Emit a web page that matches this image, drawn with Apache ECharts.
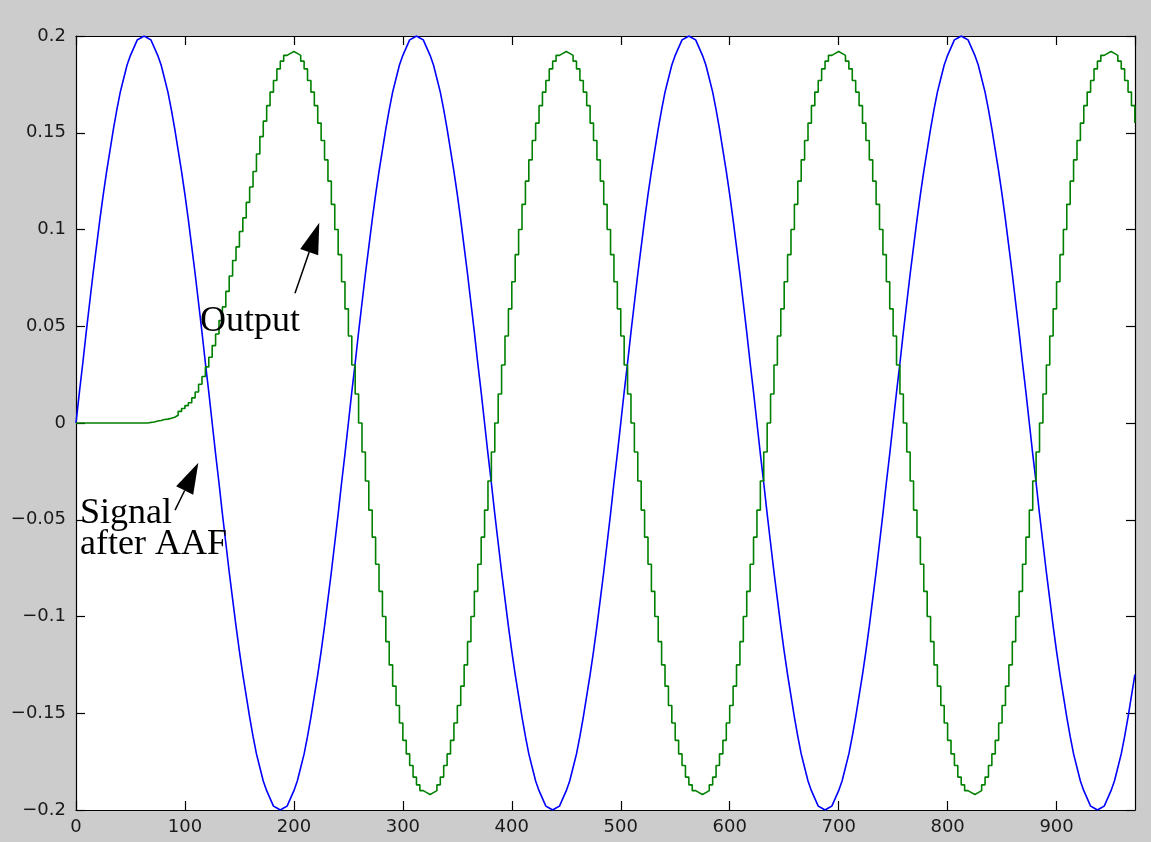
<!DOCTYPE html>
<html>
<head>
<meta charset="utf-8">
<title>Signal after AAF / Output</title>
<script src="https://cdn.jsdelivr.net/npm/echarts@6/dist/echarts.min.js"></script>
<style>
  html, body { margin: 0; padding: 0; background: #cccccc; }
  #chart { width: 1151px; height: 842px; }
</style>
</head>
<body>
<div id="chart"></div>
<script>
// sample period of both traces (x units)
const SAMPLE_PERIOD = 3.125;

// signal after the anti-aliasing filter (blue), one value per sample
const signalAfterAAF = [
    0, 0.016, 0.031, 0.047, 0.062, 0.077, 0.091, 0.105, 0.118, 0.130, 0.141, 0.152, 0.162, 0.171, 0.178, 0.185, 0.190, 0.194, 0.198, 0.199,
    0.2, 0.199, 0.198, 0.194, 0.190, 0.185, 0.178, 0.171, 0.162, 0.152, 0.141, 0.130, 0.118, 0.105, 0.091, 0.077, 0.062, 0.047, 0.031, 0.016,
    0, -0.016, -0.031, -0.047, -0.062, -0.077, -0.091, -0.105, -0.118, -0.130, -0.141, -0.152, -0.162, -0.171, -0.178, -0.185, -0.190, -0.194, -0.198, -0.199,
    -0.2, -0.199, -0.198, -0.194, -0.190, -0.185, -0.178, -0.171, -0.162, -0.152, -0.141, -0.130, -0.118, -0.105, -0.091, -0.077, -0.062, -0.047, -0.031, -0.016,
    0, 0.016, 0.031, 0.047, 0.062, 0.077, 0.091, 0.105, 0.118, 0.130, 0.141, 0.152, 0.162, 0.171, 0.178, 0.185, 0.190, 0.194, 0.198, 0.199,
    0.2, 0.199, 0.198, 0.194, 0.190, 0.185, 0.178, 0.171, 0.162, 0.152, 0.141, 0.130, 0.118, 0.105, 0.091, 0.077, 0.062, 0.047, 0.031, 0.016,
    0, -0.016, -0.031, -0.047, -0.062, -0.077, -0.091, -0.105, -0.118, -0.130, -0.141, -0.152, -0.162, -0.171, -0.178, -0.185, -0.190, -0.194, -0.198, -0.199,
    -0.2, -0.199, -0.198, -0.194, -0.190, -0.185, -0.178, -0.171, -0.162, -0.152, -0.141, -0.130, -0.118, -0.105, -0.091, -0.077, -0.062, -0.047, -0.031, -0.016,
    0, 0.016, 0.031, 0.047, 0.062, 0.077, 0.091, 0.105, 0.118, 0.130, 0.141, 0.152, 0.162, 0.171, 0.178, 0.185, 0.190, 0.194, 0.198, 0.199,
    0.2, 0.199, 0.198, 0.194, 0.190, 0.185, 0.178, 0.171, 0.162, 0.152, 0.141, 0.130, 0.118, 0.105, 0.091, 0.077, 0.062, 0.047, 0.031, 0.016,
    0, -0.016, -0.031, -0.047, -0.062, -0.077, -0.091, -0.105, -0.118, -0.130, -0.141, -0.152, -0.162, -0.171, -0.178, -0.185, -0.190, -0.194, -0.198, -0.199,
    -0.2, -0.199, -0.198, -0.194, -0.190, -0.185, -0.178, -0.171, -0.162, -0.152, -0.141, -0.130, -0.118, -0.105, -0.091, -0.077, -0.062, -0.047, -0.031, -0.016,
    0, 0.016, 0.031, 0.047, 0.062, 0.077, 0.091, 0.105, 0.118, 0.130, 0.141, 0.152, 0.162, 0.171, 0.178, 0.185, 0.190, 0.194, 0.198, 0.199,
    0.2, 0.199, 0.198, 0.194, 0.190, 0.185, 0.178, 0.171, 0.162, 0.152, 0.141, 0.130, 0.118, 0.105, 0.091, 0.077, 0.062, 0.047, 0.031, 0.016,
    0, -0.016, -0.031, -0.047, -0.062, -0.077, -0.091, -0.105, -0.118, -0.130, -0.141, -0.152, -0.162, -0.171, -0.178, -0.185, -0.190, -0.194, -0.198, -0.199,
    -0.2, -0.199, -0.198, -0.194, -0.190, -0.185, -0.178, -0.171, -0.162, -0.152, -0.141, -0.130
];

// held output (green), one value per sample
const heldOutput = [
    0, 0, 0, 0, 0, 0, 0, 0, 0, 0, 0, 0, 0, 0, 0, 0, 0, 0, 0, 0, 0,
    0.0003, 0.0005, 0.001, 0.0013, 0.0018, 0.002, 0.0025, 0.003, 0.004, 0.006, 0.0075, 0.009, 0.0105, 0.013,
    0.016, 0.020, 0.024, 0.029, 0.034, 0.040, 0.046, 0.053, 0.060, 0.068, 0.076, 0.084, 0.091, 0.099, 0.106,
    0.114, 0.122, 0.130, 0.139, 0.148, 0.156,
    0.164, 0.171, 0.177, 0.183, 0.187, 0.190, 0.191,
    0.192, 0.191, 0.190, 0.187, 0.183, 0.177, 0.171, 0.164, 0.155, 0.146, 0.136, 0.125, 0.113, 0.100, 0.087, 0.073, 0.059, 0.045, 0.030, 0.015,
    0, -0.015, -0.030, -0.045, -0.059, -0.073, -0.087, -0.100, -0.113, -0.125, -0.136, -0.146, -0.155, -0.164, -0.171, -0.177, -0.183, -0.187, -0.190, -0.191,
    -0.192, -0.191, -0.190, -0.187, -0.183, -0.177, -0.171, -0.164, -0.155, -0.146, -0.136, -0.125, -0.113, -0.100, -0.087, -0.073, -0.059, -0.045, -0.030, -0.015,
    0, 0.015, 0.030, 0.045, 0.059, 0.073, 0.087, 0.100, 0.113, 0.125, 0.136, 0.146, 0.155, 0.164, 0.171, 0.177, 0.183, 0.187, 0.190, 0.191,
    0.192, 0.191, 0.190, 0.187, 0.183, 0.177, 0.171, 0.164, 0.155, 0.146, 0.136, 0.125, 0.113, 0.100, 0.087, 0.073, 0.059, 0.045, 0.030, 0.015,
    0, -0.015, -0.030, -0.045, -0.059, -0.073, -0.087, -0.100, -0.113, -0.125, -0.136, -0.146, -0.155, -0.164, -0.171, -0.177, -0.183, -0.187, -0.190, -0.191,
    -0.192, -0.191, -0.190, -0.187, -0.183, -0.177, -0.171, -0.164, -0.155, -0.146, -0.136, -0.125, -0.113, -0.100, -0.087, -0.073, -0.059, -0.045, -0.030, -0.015,
    0, 0.015, 0.030, 0.045, 0.059, 0.073, 0.087, 0.100, 0.113, 0.125, 0.136, 0.146, 0.155, 0.164, 0.171, 0.177, 0.183, 0.187, 0.190, 0.191,
    0.192, 0.191, 0.190, 0.187, 0.183, 0.177, 0.171, 0.164, 0.155, 0.146, 0.136, 0.125, 0.113, 0.100, 0.087, 0.073, 0.059, 0.045, 0.030, 0.015,
    0, -0.015, -0.030, -0.045, -0.059, -0.073, -0.087, -0.100, -0.113, -0.125, -0.136, -0.146, -0.155, -0.164, -0.171, -0.177, -0.183, -0.187, -0.190, -0.191,
    -0.192, -0.191, -0.190, -0.187, -0.183, -0.177, -0.171, -0.164, -0.155, -0.146, -0.136, -0.125, -0.113, -0.100, -0.087, -0.073, -0.059, -0.045, -0.030, -0.015,
    0, 0.015, 0.030, 0.045, 0.059, 0.073, 0.087, 0.100, 0.113, 0.125, 0.136, 0.146, 0.155, 0.164, 0.171, 0.177, 0.183, 0.187, 0.190, 0.191,
    0.192, 0.191, 0.190, 0.187, 0.183, 0.177, 0.171, 0.164, 0.155
];

// axis ranges / ticks
const xRange = [0, 972];
const xTickStep = 100;
const yRange = [-0.2, 0.2];
const yTickStep = 0.05;

// annotations, in data coordinates
const annotations = [
    { lines: ['Output'], at: [113.8, 0.046] },
    { lines: ['Signal', 'after AAF'], at: [3.7, -0.0532] }
];
const arrows = [
    { from: [201, 0.067], to: [223.3, 0.1035] },
    { from: [90.9, -0.045], to: [112.3, -0.0205] }
];

const chart = echarts.init(document.getElementById('chart'));

const tickFont = { color: '#1a1a1a', fontSize: 18, fontFamily: '"DejaVu Sans", sans-serif' };

function toPairs(values) {
    return values.map((v, i) => [i * SAMPLE_PERIOD, v]);
}

function xAxisConf(position, showLabel) {
    return {
        type: 'value',
        position: position,
        min: xRange[0],
        max: xRange[1],
        interval: xTickStep,
        axisLine: { show: true, onZero: false, lineStyle: { color: '#000', width: 1.2 } },
        axisTick: { show: true, inside: true, length: 9, lineStyle: { color: '#000', width: 1.2 } },
        axisLabel: {
            show: showLabel,
            margin: 8,
            showMaxLabel: false,
            formatter: v => (v % xTickStep === 0 ? String(v) : ''),
            ...tickFont
        },
        splitLine: { show: false }
    };
}

function yAxisConf(position, showLabel) {
    return {
        type: 'value',
        position: position,
        min: yRange[0],
        max: yRange[1],
        interval: yTickStep,
        axisLine: { show: true, onZero: false, lineStyle: { color: '#000', width: 1.2 } },
        axisTick: { show: true, inside: true, length: 9, lineStyle: { color: '#000', width: 1.2 } },
        axisLabel: {
            show: showLabel,
            margin: 10,
            formatter: v => {
                const s = String(Math.round(v * 1000) / 1000);
                return s.replace('-', '\u2212');
            },
            ...tickFont
        },
        splitLine: { show: false }
    };
}

const option = {
    backgroundColor: '#cccccc',
    animation: false,
    grid: {
        left: 76, right: 16, top: 36, bottom: 32,
        show: true, backgroundColor: '#ffffff', borderWidth: 0
    },
    xAxis: [xAxisConf('bottom', true), xAxisConf('top', false)],
    yAxis: [yAxisConf('left', true), yAxisConf('right', false)],
    series: [
        {
            name: 'Signal after AAF',
            type: 'line',
            data: toPairs(signalAfterAAF),
            showSymbol: false,
            lineStyle: { color: '#0000ff', width: 1.6 },
            z: 2
        },
        {
            name: 'Output',
            type: 'line',
            step: 'end',
            data: toPairs(heldOutput),
            showSymbol: false,
            lineStyle: { color: '#008000', width: 1.6 },
            z: 3
        }
    ]
};

chart.setOption(option);

// 注释文字和箭头
function drawAnnotations() {
    const graphics = [];
    const lineGap = 31;
    annotations.forEach(a => {
        const p = chart.convertToPixel({ gridIndex: 0 }, a.at);
        a.lines.forEach((t, k) => {
            graphics.push({
                type: 'text',
                x: p[0],
                y: p[1] - 12 + k * lineGap,
                z: 10,
                style: {
                    text: t,
                    font: '36px "Liberation Serif", "Times New Roman", serif',
                    fill: '#000',
                    verticalAlign: 'middle',
                    align: 'left'
                }
            });
        });
    });
    arrows.forEach(a => {
        const s = chart.convertToPixel({ gridIndex: 0 }, a.from);
        const t = chart.convertToPixel({ gridIndex: 0 }, a.to);
        const dx = t[0] - s[0], dy = t[1] - s[1];
        const len = Math.sqrt(dx * dx + dy * dy);
        const ux = dx / len, uy = dy / len;
        const headLen = 31, halfW = 9.5;
        const bx = t[0] - ux * headLen, by = t[1] - uy * headLen;
        graphics.push({
            type: 'line',
            z: 10,
            shape: { x1: s[0], y1: s[1], x2: bx, y2: by },
            style: { stroke: '#000', lineWidth: 1.5 }
        });
        graphics.push({
            type: 'polygon',
            z: 10,
            shape: {
                points: [
                    [t[0], t[1]],
                    [bx - uy * halfW, by + ux * halfW],
                    [bx + uy * halfW, by - ux * halfW]
                ]
            },
            style: { fill: '#000' }
        });
    });
    chart.setOption({ graphic: graphics });
}

drawAnnotations();

window.addEventListener('resize', function() {
    chart.resize();
    drawAnnotations();
});
</script>
</body>
</html>
